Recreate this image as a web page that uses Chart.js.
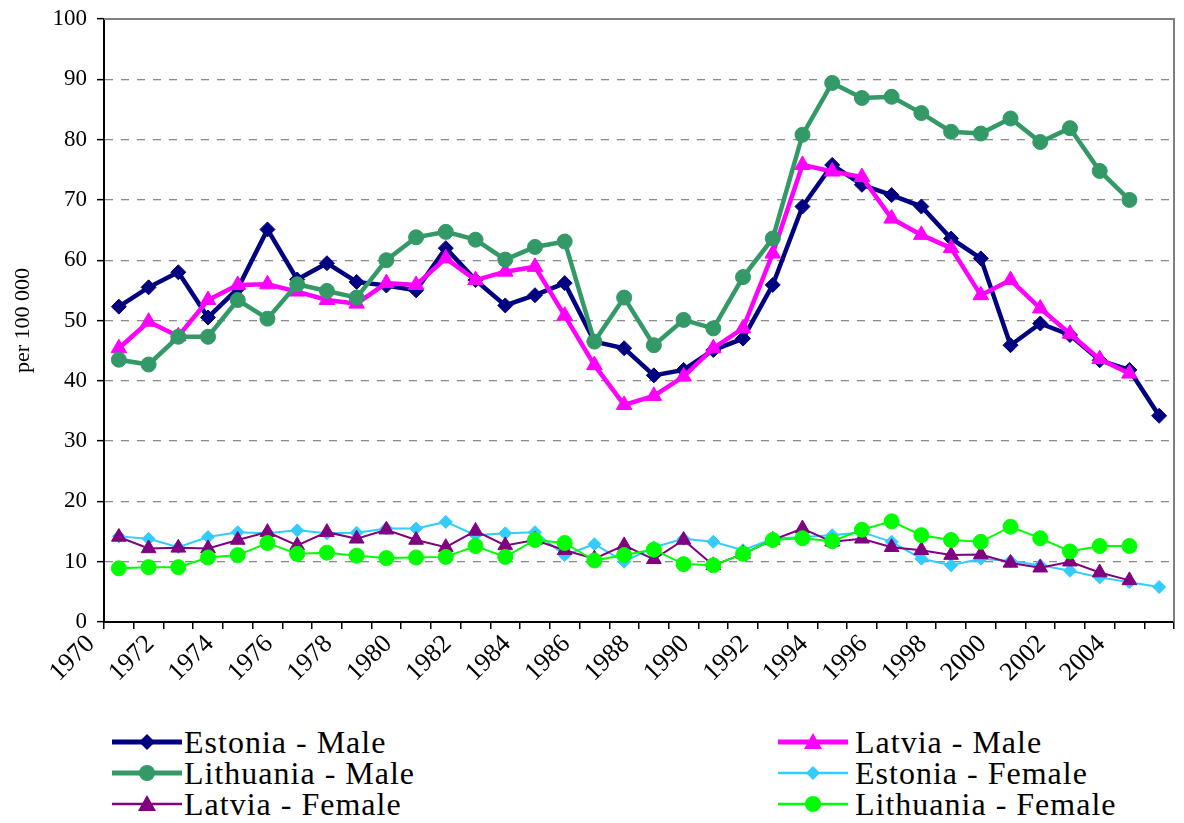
<!DOCTYPE html>
<html>
<head>
<meta charset="utf-8">
<script src="https://cdn.jsdelivr.net/npm/chart.js@4.4.1/dist/chart.umd.min.js"></script>
<style>
  body { margin: 0; background: #fff; width: 1184px; height: 823px; overflow: hidden; position: relative; font-family: "Liberation Serif", "DejaVu Serif", "Times New Roman", serif; }
  #wrap { position: absolute; left: 0; top: 0; width: 1184px; height: 705px; }
  .legend { position: absolute; font-size: 32px; letter-spacing: 1px; color: #000; }
  .item { display: flex; align-items: center; height: 31px; white-space: nowrap; }
  .item svg { margin-right: 2px; }
  #legRight .item svg { margin-right: 7px; }
</style>
</head>
<body>
<div id="wrap"><canvas id="myChart" width="1184" height="705"></canvas></div>
<div class="legend" id="legLeft" style="left:112px; top:727px;"></div>
<div class="legend" id="legRight" style="left:778px; top:727px;"></div>

<script>
// categories
var years = ['1970','1971','1972','1973','1974','1975','1976','1977','1978','1979',
             '1980','1981','1982','1983','1984','1985','1986','1987','1988','1989',
             '1990','1991','1992','1993','1994','1995','1996','1997','1998','1999',
             '2000','2001','2002','2003','2004','2005'];

// per 100 000
var estoniaMale = [52.3, 55.5, 58.0, 50.5, 55.3, 65.1, 56.8, 59.5, 56.4, 55.8,
                   55.0, 62.0, 56.7, 52.5, 54.2, 56.2, 46.5, 45.4, 40.9, 41.8,
                   45.1, 47.0, 55.9, 68.9, 75.8, 72.5, 70.8, 68.9, 63.6, 60.3,
                   45.9, 49.5, 47.6, 43.4, 41.8, 34.2];
var latviaMale = [45.4, 49.8, 47.4, 53.4, 55.9, 56.0, 54.8, 53.4, 52.8, 56.2,
                  55.9, 60.3, 56.7, 58.1, 58.9, 50.8, 42.6, 36.0, 37.5, 40.7,
                  45.4, 48.7, 61.1, 75.8, 74.7, 73.8, 66.9, 64.2, 62.0, 54.2,
                  56.7, 52.0, 47.8, 43.6, 41.2, null];
var lithuaniaMale = [43.5, 42.7, 47.3, 47.3, 53.4, 50.3, 56.0, 54.9, 53.8, 60.0,
                     63.8, 64.7, 63.4, 60.1, 62.2, 63.1, 46.5, 53.8, 45.9, 50.1,
                     48.7, 57.2, 63.6, 80.8, 89.4, 86.9, 87.1, 84.4, 81.3, 81.0,
                     83.5, 79.6, 81.9, 74.8, 70.0, null];
var estoniaFemale = [14.2, 13.8, 12.4, 14.1, 14.9, 14.7, 15.2, 14.7, 14.8, 15.5,
                     15.5, 16.6, 14.4, 14.7, 14.9, 11.1, 12.9, 10.0, 12.4, 13.8,
                     13.3, 11.9, 13.8, 14.1, 14.4, 14.9, 13.3, 10.5, 9.4, 10.5,
                     10.1, 9.4, 8.5, 7.4, 6.6, 5.8];
var latviaFemale = [14.1, 12.2, 12.3, 12.2, 13.6, 14.9, 12.7, 14.9, 13.8, 15.3,
                    13.6, 12.4, 15.1, 12.7, 13.6, 11.9, 10.5, 12.7, 10.4, 13.6,
                    9.4, 11.3, 13.6, 15.5, 13.3, 13.8, 12.4, 11.9, 11.1, 11.2,
                    9.8, 9.0, 10.0, 8.2, 6.9, null];
var lithuaniaFemale = [8.9, 9.1, 9.1, 10.7, 11.1, 13.1, 11.3, 11.5, 11.0, 10.6,
                       10.7, 10.8, 12.6, 10.8, 13.6, 13.1, 10.2, 11.1, 12.0, 9.6,
                       9.4, 11.3, 13.6, 13.9, 13.4, 15.3, 16.7, 14.4, 13.6, 13.3,
                       15.8, 13.9, 11.7, 12.6, 12.6, null];

var seriesNames = ['Estonia - Male', 'Latvia - Male', 'Lithuania - Male',
                   'Estonia - Female', 'Latvia - Female', 'Lithuania - Female'];
var seriesData = [estoniaMale, latviaMale, lithuaniaMale, estoniaFemale, latviaFemale, lithuaniaFemale];
var seriesColors = ['#000080', '#FF00FF', '#339966', '#33CCFF', '#800080', '#00FF00'];
var seriesShapes = ['rectRot', 'triangle', 'circle', 'rectRot', 'triangle', 'circle'];
var seriesWidths = [4.5, 4.5, 4.5, 2, 2, 2];
var seriesRadius = [7.5, 9, 7.5, 6.5, 8.5, 7.5];

Chart.defaults.font.family = "'Liberation Serif', 'DejaVu Serif', 'Times New Roman', serif";
Chart.defaults.color = '#000';

var datasets = seriesNames.map(function(name, i) {
    return {
        label: name,
        data: seriesData[i],
        borderColor: seriesColors[i],
        backgroundColor: seriesColors[i],
        borderWidth: seriesWidths[i],
        pointStyle: seriesShapes[i],
        pointRadius: seriesRadius[i],
        pointBackgroundColor: seriesColors[i],
        pointBorderColor: seriesColors[i],
        pointBorderWidth: 1,
        tension: 0,
        order: 6 - i
    };
});

// gray frame on top and right of the plot area
var framePlugin = {
    id: 'frame',
    beforeDatasetsDraw: function(chart) {
        var a = chart.chartArea, c = chart.ctx;
        c.save();
        c.strokeStyle = '#808080';
        c.lineWidth = 2;
        c.beginPath();
        c.moveTo(a.left, a.top);
        c.lineTo(a.right, a.top);
        c.lineTo(a.right, a.bottom);
        c.stroke();
        c.restore();
    }
};

var ctx = document.getElementById('myChart');
var myChart = new Chart(ctx, {
    type: 'line',
    data: { labels: years, datasets: datasets },
    options: {
        responsive: false,
        animation: false,
        layout: { padding: { top: 19, right: 1, left: 0, bottom: 0 } },
        plugins: { legend: { display: false }, tooltip: { enabled: false } },
        scales: {
            x: {
                offset: true,
                grid: { offset: true, drawOnChartArea: false, tickLength: 7, color: '#000', lineWidth: 1.5 },
                border: { color: '#000', width: 2 },
                ticks: {
                    autoSkip: false, maxRotation: 45, minRotation: 45, padding: 0,
                    labelOffset: -28,
                    font: { size: 26 },
                    callback: function(v, i) { return i % 2 === 0 ? years[i] : ''; }
                },
                afterFit: function(s) { s.height = 83; }
            },
            y: {
                min: 0, max: 100,
                ticks: { stepSize: 10, font: { size: 23 }, padding: 10 },
                grid: {
                    color: function(c) { return (c.tick && (c.tick.value === 0 || c.tick.value === 100)) ? 'rgba(0,0,0,0)' : '#8c8c8c'; },
                    lineWidth: 1.3,
                    tickColor: '#000', tickLength: 7, tickWidth: 1.5
                },
                border: { color: '#000', width: 2, dash: [8, 8] },
                title: { display: true, text: 'per 100 000', font: { size: 22 }, padding: { top: 10, bottom: 0 } },
                afterFit: function(s) { s.width = 104; s.paddingTop = 10; s.paddingBottom = 10; }
            }
        }
    },
    plugins: [framePlugin]
});

// legend in two columns, like the original
function symbolSvg(i) {
    var col = seriesColors[i], sh = seriesShapes[i];
    var lw = i < 3 ? 5 : 2.5;
    var m = '';
    if (sh === 'rectRot') {
        var r = i < 3 ? 8 : 7;
        m = '<polygon points="35,' + (15 - r) + ' ' + (35 + r) + ',15 35,' + (15 + r) + ' ' + (35 - r) + ',15" fill="' + col + '"/>';
    } else if (sh === 'circle') {
        m = '<circle cx="35" cy="15" r="8" fill="' + col + '"/>';
    } else {
        m = '<polygon points="35,6 44,22 26,22" fill="' + col + '"/>';
    }
    return '<svg width="70" height="31" viewBox="0 0 70 31"><line x1="0" y1="15" x2="70" y2="15" stroke="' + col + '" stroke-width="' + lw + '"/>' + m + '</svg>';
}
var leftOrder = [0, 2, 4];
var rightOrder = [1, 3, 5];
function fillLegend(id, order) {
    var el = document.getElementById(id);
    order.forEach(function(i) {
        var d = document.createElement('div');
        d.className = 'item';
        d.innerHTML = symbolSvg(i) + '<span>' + seriesNames[i] + '</span>';
        el.appendChild(d);
    });
}
fillLegend('legLeft', leftOrder);
fillLegend('legRight', rightOrder);
</script>
</body>
</html>
